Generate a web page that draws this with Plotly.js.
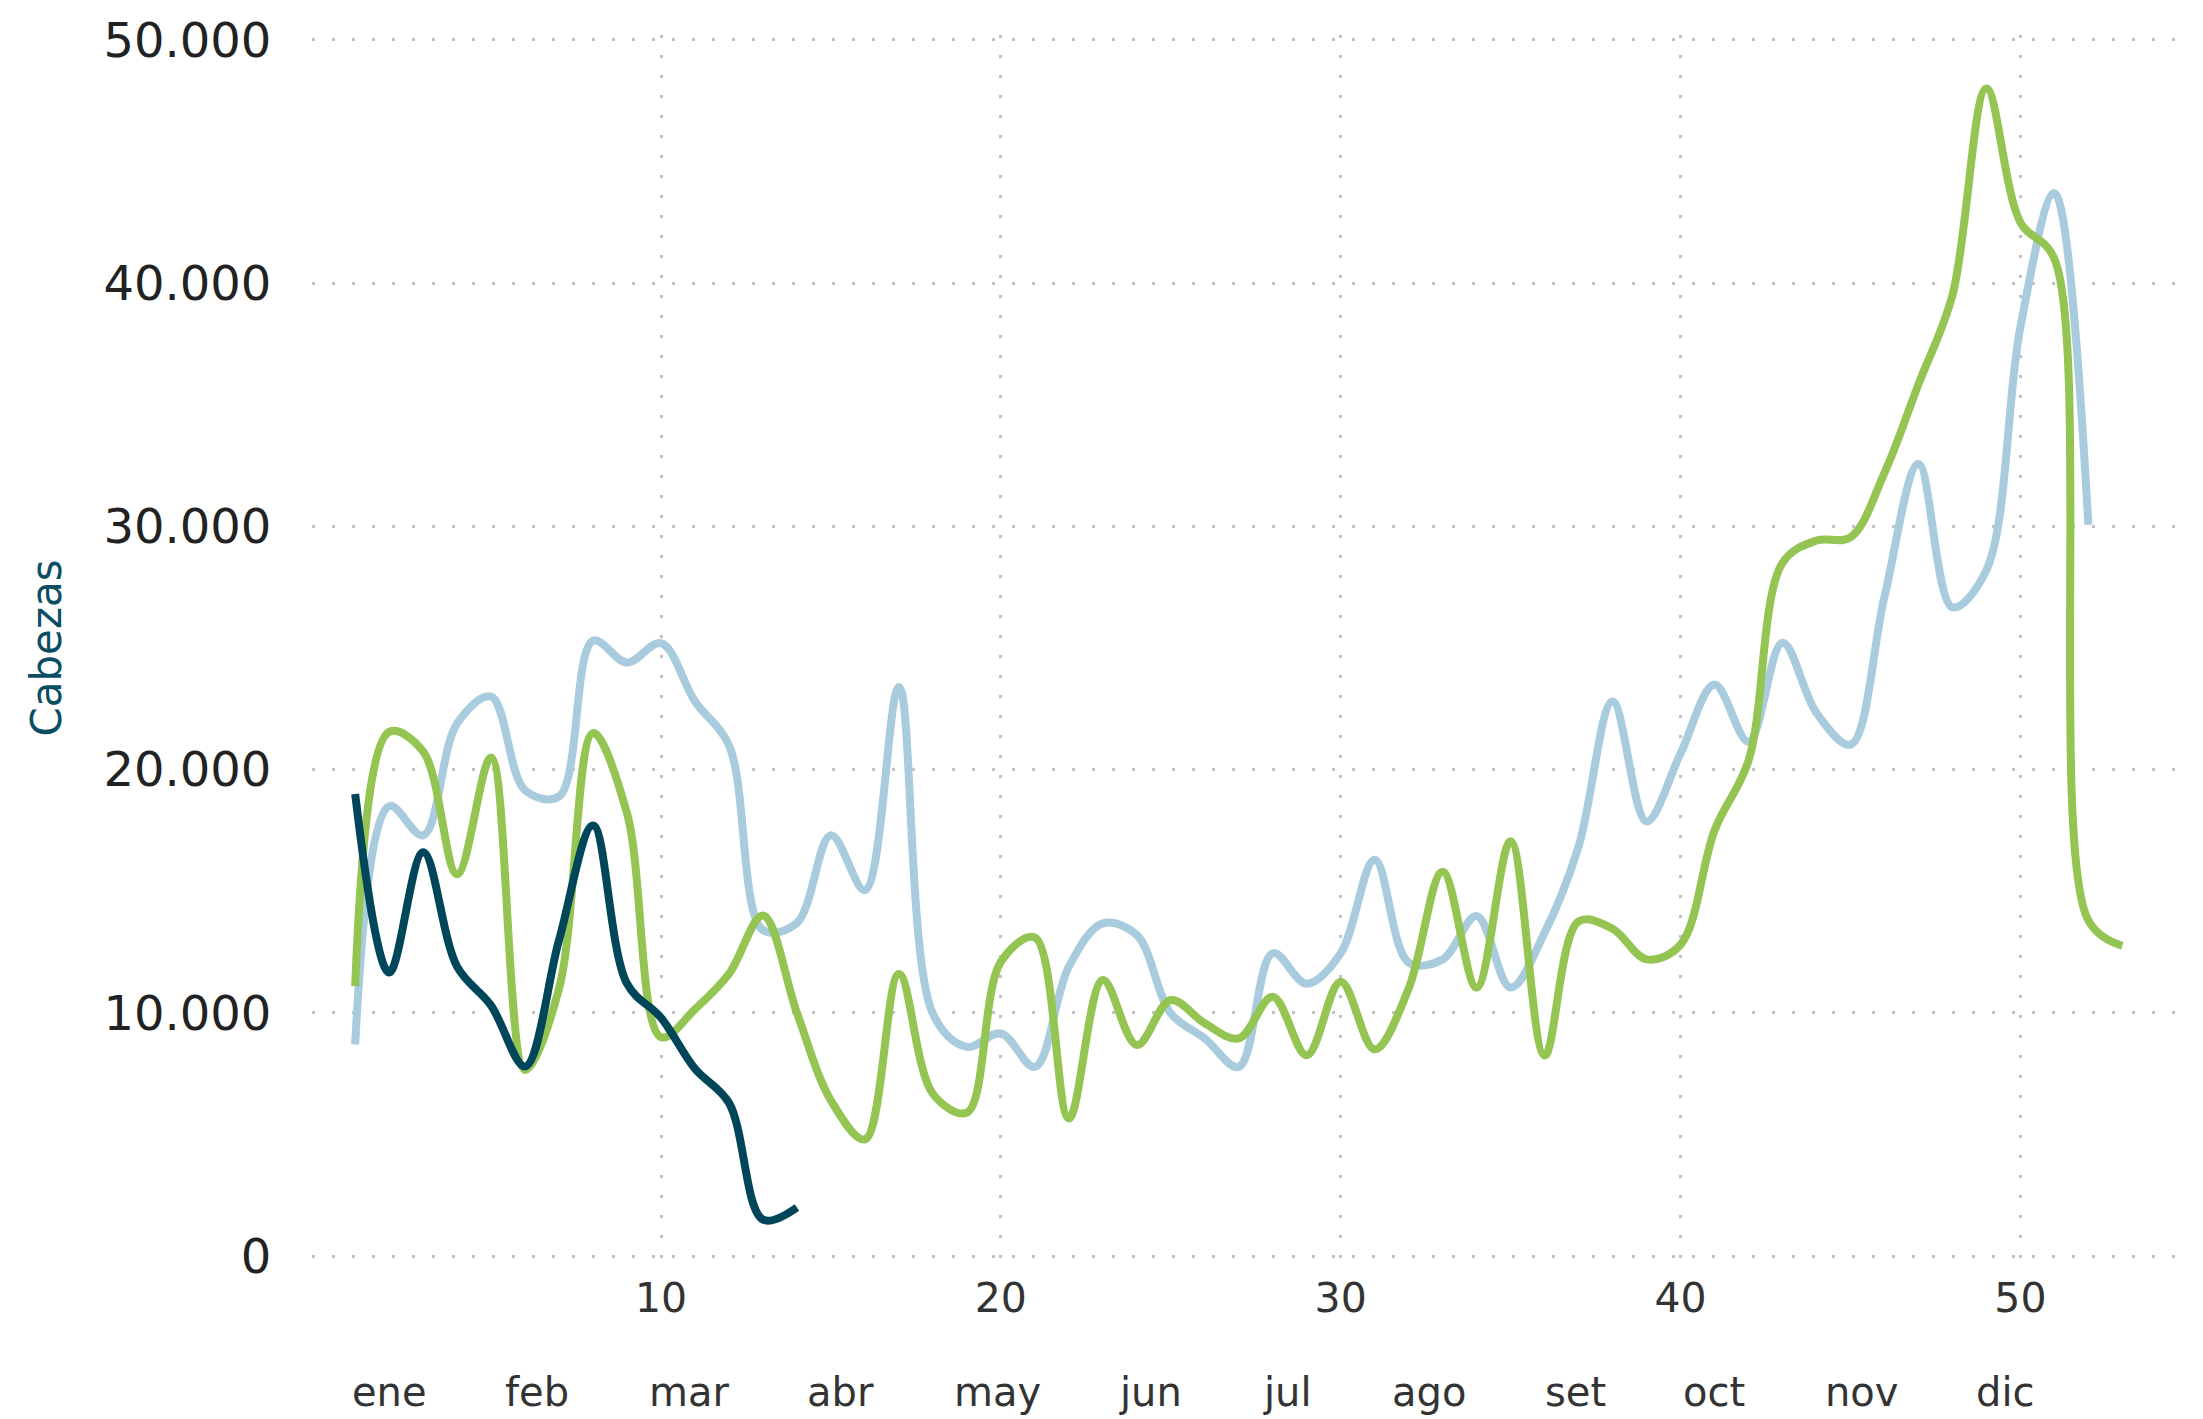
<!DOCTYPE html>
<html>
<head>
<meta charset="utf-8">
<script src="https://cdn.plot.ly/plotly-3.0.1.min.js"></script>
<style>
  html, body { margin: 0; padding: 0; background: #ffffff; }
  #chart { width: 2203px; height: 1419px; }
</style>
</head>
<body>
<div id="chart"></div>
<script>
// ---- data (weekly head counts) ----
const weeksLight = [1,2,3,4,5,6,7,8,9,10,11,12,13,14,15,16,17,18,19,20,21,22,23,24,25,26,27,28,29,30,31,32,33,34,35,36,37,38,39,40,41,42,43,44,45,46,47,48,49,50,51,52];
const valuesLight = [8700,18500,17300,21900,23000,19150,18900,25300,24400,25200,22800,21000,13400,13700,17300,15050,23400,9960,8600,9160,7780,11900,13680,13200,9980,8950,7780,12450,11200,12450,16300,12070,12200,13980,11040,13300,16840,22800,17870,20660,23500,21150,25220,22330,21030,27100,32560,26670,28200,38200,43700,30070];

const weeksGreen = [1,2,3,4,5,6,7,8,9,10,11,12,13,14,15,16,17,18,19,20,21,22,23,24,25,26,27,28,29,30,31,32,33,34,35,36,37,38,39,40,41,42,43,44,45,46,47,48,49,50,51,52,53];
const valuesGreen = [11100,21550,20750,15700,20500,7650,11000,21500,18200,9000,10150,11600,14000,10000,6400,4800,11600,6670,5900,12100,13100,5660,11350,8680,10530,9570,8950,10660,8260,11280,8500,11000,15800,11040,17060,8250,13760,13460,12200,12800,17500,20370,28500,29420,29550,32200,35840,39500,48000,42500,41000,13800,12760];

const weeksDark = [1,2,3,4,5,6,7,8,9,10,11,12,13,14];
const valuesDark = [19000,11660,16600,11900,10300,7800,13000,17700,11200,9800,7700,6300,1500,2000];

const xTickVals = [10,20,30,40,50];
const yTickVals = [0,10000,20000,30000,40000,50000];

const monthLabels = ["ene","feb","mar","abr","may","jun","jul","ago","set","oct","nov","dic"];
const monthPos = [2.0,6.34,10.81,15.27,19.9,24.41,28.42,32.6,36.9,40.98,45.33,49.55];

const yTitle = "Cabezas";

// ---- styles ----
const colLight = "#a8cbdd";
const colGreen = "#94c452";
const colDark = "#00465a";
const FONT = "DejaVu Sans, Verdana, sans-serif";
const LW = 8;

const traces = [
  { x: weeksLight, y: valuesLight, name: "Serie 1", type: "scatter", mode: "lines",
    line: { color: colLight, width: LW, shape: "spline", smoothing: 1 } },
  { x: weeksGreen, y: valuesGreen, name: "Serie 2", type: "scatter", mode: "lines",
    line: { color: colGreen, width: LW, shape: "spline", smoothing: 1 } },
  { x: weeksDark, y: valuesDark, name: "Serie 3", type: "scatter", mode: "lines",
    line: { color: colDark, width: LW, shape: "spline", smoothing: 1 } }
];

// plot area: t=35, height 1226 px for [-200, 50200]
const annotations = monthLabels.map((m, i) => ({
  x: monthPos[i], xref: "x", y: -(1392 - 1261) / 1226, yref: "paper",
  text: m, showarrow: false, xanchor: "center", yanchor: "middle",
  font: { family: FONT, size: 40, color: "#333333" }
}));

const layout = {
  width: 2203, height: 1419,
  paper_bgcolor: "#ffffff", plot_bgcolor: "#ffffff",
  margin: { l: 312, r: 11, t: 35, b: 158 },
  showlegend: false,
  separators: ",.",
  font: { family: FONT, color: "#222222" },
  xaxis: {
    range: [-0.27, 55.05],
    tickvals: xTickVals,
    showgrid: true, gridcolor: "#c2c2c2", gridwidth: 3, griddash: "3px,17px",
    zeroline: false, showline: false,
    ticks: "outside", ticklen: 1, tickcolor: "rgba(0,0,0,0)",
    tickfont: { family: FONT, size: 41, color: "#333333" }
  },
  yaxis: {
    range: [-200, 50200],
    tickvals: yTickVals,
    tickformat: ",d",
    showgrid: true, gridcolor: "#c2c2c2", gridwidth: 3, griddash: "3px,17px",
    zeroline: false, showline: false,
    ticks: "outside", ticklen: 30, tickcolor: "rgba(0,0,0,0)",
    tickfont: { family: FONT, size: 48, color: "#222222" },
    title: { text: yTitle, standoff: 28, font: { family: FONT, size: 42, color: "#0b4d63" } }
  },
  annotations: annotations
};

Plotly.newPlot("chart", traces, layout, { staticPlot: true, displayModeBar: false });
</script>
</body>
</html>
